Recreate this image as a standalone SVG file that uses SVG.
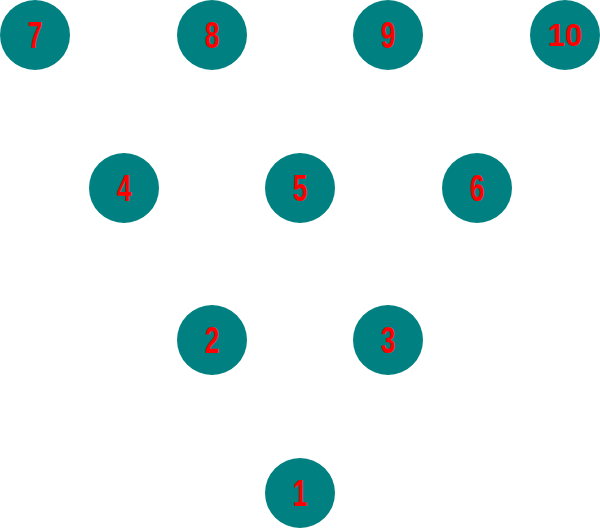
<svg xmlns="http://www.w3.org/2000/svg" width="600" height="528" viewBox="0 0 600 528">
<style>
.pin{fill:#008080}
.lbl{fill:#ff0000;font-family:"Liberation Sans",Arial,sans-serif;font-weight:bold;text-anchor:middle}
.d{font-size:33px}
.dd{font-size:31px}
</style>
<rect width="600" height="528" fill="#ffffff"/>
<g id="connectors"></g>
<g id="pin7"><circle class="pin" cx="35" cy="35" r="35"/><text class="lbl d" transform="translate(35,48) scale(0.8,1.12)">7</text></g>
<g id="pin8"><circle class="pin" cx="212" cy="35" r="35"/><text class="lbl d" transform="translate(212,48) scale(0.8,1.12)">8</text></g>
<g id="pin9"><circle class="pin" cx="388" cy="35" r="35"/><text class="lbl d" transform="translate(388,48) scale(0.8,1.12)">9</text></g>
<g id="pin10"><circle class="pin" cx="565" cy="35" r="35"/><text class="lbl dd" x="565" y="46">10</text></g>
<g id="pin4"><circle class="pin" cx="124" cy="188" r="35"/><text class="lbl d" transform="translate(124,201) scale(0.8,1.12)">4</text></g>
<g id="pin5"><circle class="pin" cx="300" cy="188" r="35"/><text class="lbl d" transform="translate(300,201) scale(0.8,1.12)">5</text></g>
<g id="pin6"><circle class="pin" cx="477" cy="188" r="35"/><text class="lbl d" transform="translate(477,201) scale(0.8,1.12)">6</text></g>
<g id="pin2"><circle class="pin" cx="212" cy="340" r="35"/><text class="lbl d" transform="translate(212,353) scale(0.8,1.12)">2</text></g>
<g id="pin3"><circle class="pin" cx="388" cy="340" r="35"/><text class="lbl d" transform="translate(388,353) scale(0.8,1.12)">3</text></g>
<g id="pin1"><circle class="pin" cx="300" cy="493" r="35"/><text class="lbl d" transform="translate(300,506) scale(0.8,1.12)">1</text></g>
</svg>
